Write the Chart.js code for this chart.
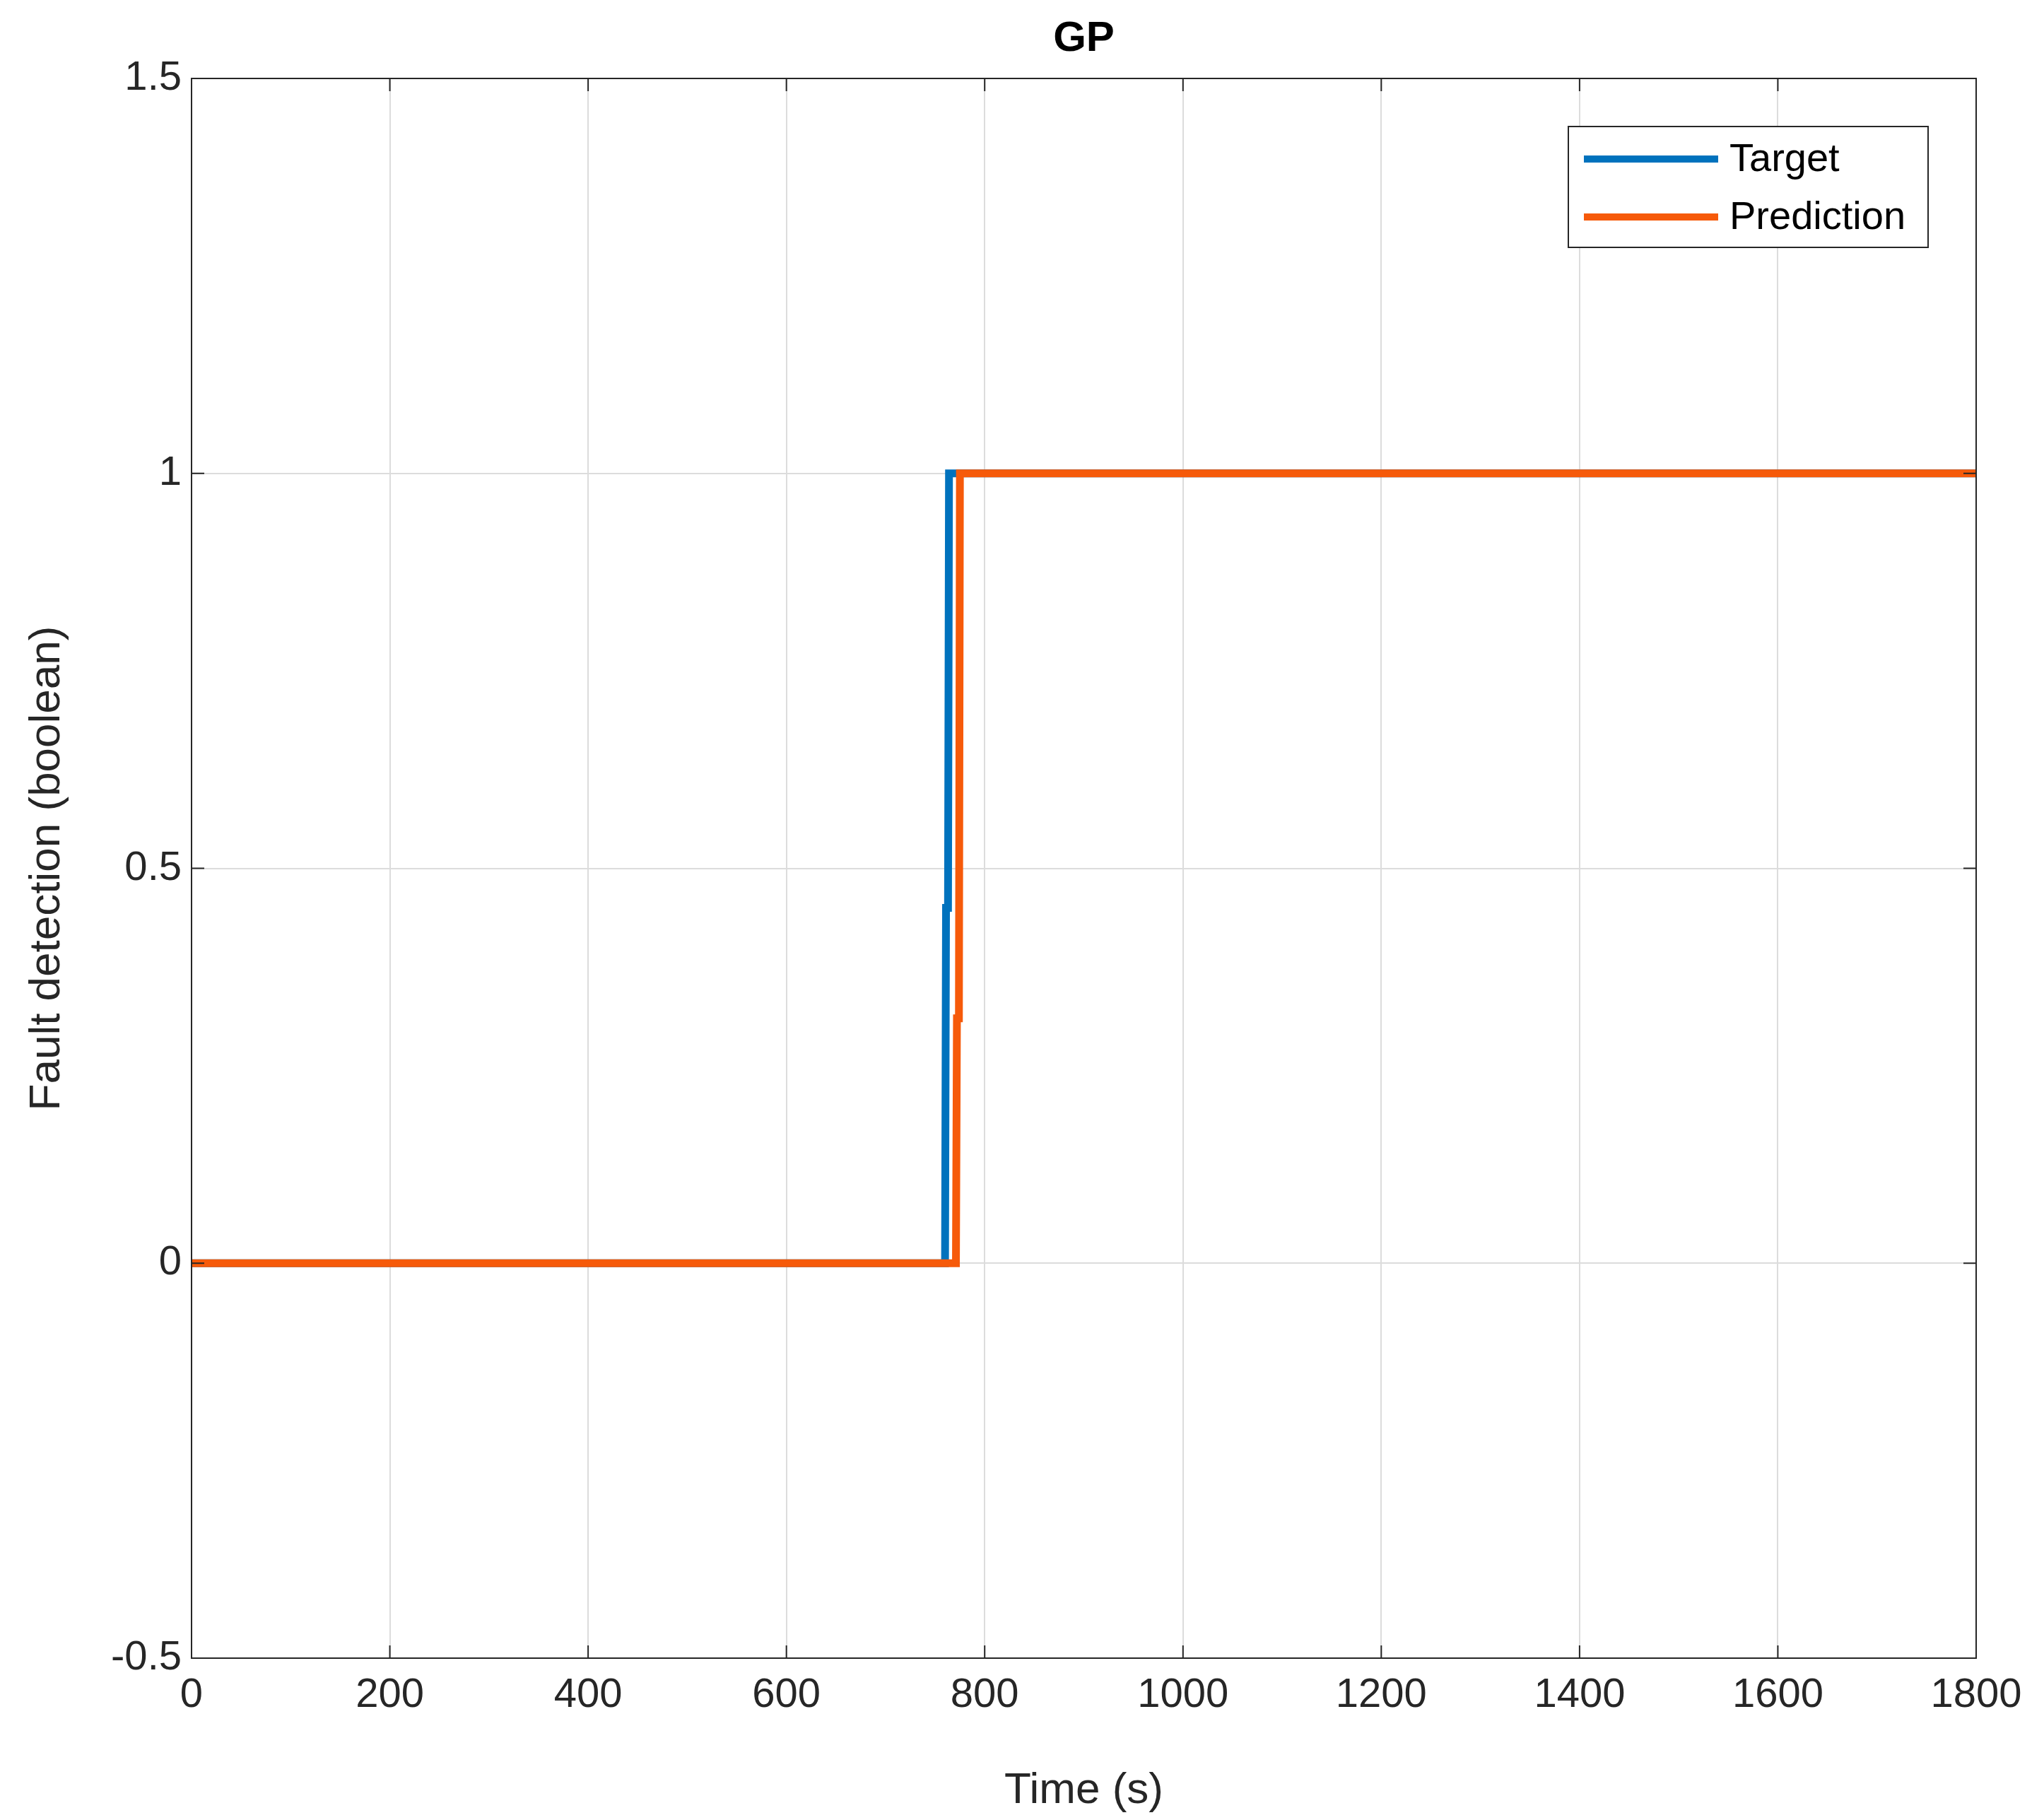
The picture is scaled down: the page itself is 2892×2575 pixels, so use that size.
<!DOCTYPE html>
<html><head><meta charset="utf-8">
<script src="https://cdn.jsdelivr.net/npm/chart.js@4/dist/chart.umd.min.js"></script>
<style>html,body{margin:0;padding:0;background:#fff}#w{width:2892px;height:2575px}</style>
</head><body><div id="w"><canvas id="c"></canvas></div>
<script>
const chartTitle = "GP";
const xTitle = "Time (s)";
const yTitle = "Fault detection (boolean)";
const targetTime = [0, 760, 761, 763, 764, 767, 1800];
const targetValue = [0, 0, 0.45, 0.45, 1, 1, 1];
const predTime = [0, 771, 772, 774, 775, 778, 1800];
const predValue = [0, 0, 0.31, 0.31, 1, 1, 1];
const seriesLabels = ["Target", "Prediction"];
const seriesColors = ["#0072BD", "#F65A0A"];
const xTicks = [0,200,400,600,800,1000,1200,1400,1600,1800];
const yTicks = [-0.5,0,0.5,1,1.5];

const toPts = (xs, ys) => xs.map((x,i)=>({x, y: ys[i]}));
const FONT = "'Liberation Sans', Arial, sans-serif";

const deco = {
  id: 'deco',
  afterDraw(chart) {
    const {ctx, chartArea: a, scales: {x, y}} = chart;
    ctx.save();
    ctx.strokeStyle = '#262626'; ctx.lineWidth = 2;
    const L = 18;
    xTicks.forEach(v => { const p = x.getPixelForValue(v);
      ctx.beginPath(); ctx.moveTo(p, a.bottom); ctx.lineTo(p, a.bottom - L);
      ctx.moveTo(p, a.top); ctx.lineTo(p, a.top + L); ctx.stroke(); });
    yTicks.forEach(v => { const p = y.getPixelForValue(v);
      ctx.beginPath(); ctx.moveTo(a.left, p); ctx.lineTo(a.left + L, p);
      ctx.moveTo(a.right, p); ctx.lineTo(a.right - L, p); ctx.stroke(); });
    ctx.strokeRect(a.left, a.top, a.right - a.left, a.bottom - a.top);
    ctx.fillStyle = '#000'; ctx.font = "bold 60px " + FONT;
    ctx.textAlign = 'center'; ctx.textBaseline = 'middle';
    ctx.fillText(chartTitle, (a.left + a.right)/2, 55);
    const bx = 2219, by = 179, bw = 509, bh = 171;
    ctx.fillStyle = '#fff'; ctx.fillRect(bx, by, bw, bh);
    ctx.strokeStyle = '#262626'; ctx.lineWidth = 2; ctx.strokeRect(bx, by, bw, bh);
    ctx.font = "56px " + FONT; ctx.textAlign = 'left';
    seriesLabels.forEach((lab, i) => {
      const cy = by + 46 + i * 82;
      ctx.strokeStyle = seriesColors[i]; ctx.lineWidth = 10;
      ctx.beginPath(); ctx.moveTo(bx + 22, cy); ctx.lineTo(bx + 212, cy); ctx.stroke();
      ctx.fillStyle = '#000'; ctx.fillText(lab, bx + 228, cy + 2);
    });
    ctx.restore();
  }
};

new Chart(document.getElementById('c'), {
  type: 'line',
  data: { datasets: [
    { label: seriesLabels[0], data: toPts(targetTime, targetValue), borderColor: seriesColors[0], borderWidth: 11, pointRadius: 0, tension: 0, order: 2 },
    { label: seriesLabels[1], data: toPts(predTime, predValue), borderColor: seriesColors[1], borderWidth: 11, pointRadius: 0, tension: 0, order: 1 }
  ]},
  options: {
    responsive: true, maintainAspectRatio: false, animation: false,
    layout: { padding: { top: 111, right: 96, left: 0, bottom: 0 } },
    plugins: { legend: { display: false }, title: { display: false }, tooltip: { enabled: false } },
    scales: {
      x: { type: 'linear', min: 0, max: 1800,
        afterBuildTicks: s => { s.ticks = xTicks.map(v => ({value: v})); },
        afterFit: s => { s.height = 229; },
        grid: { color: '#dcdcdc', lineWidth: 2, drawTicks: false },
        border: { display: false },
        ticks: { color: '#262626', font: { size: 58, family: FONT }, padding: 18, maxRotation: 0, callback: v => String(v) },
        title: { display: true, text: xTitle, color: '#262626', font: { size: 62, family: FONT }, padding: { top: 0 } } },
      y: { min: -0.5, max: 1.5,
        afterBuildTicks: s => { s.ticks = yTicks.map(v => ({value: v})); },
        afterFit: s => { s.width = 271; },
        grid: { color: '#dcdcdc', lineWidth: 2, drawTicks: false },
        border: { display: false },
        ticks: { color: '#262626', font: { size: 58, family: FONT }, padding: 14, callback: v => String(v) },
        title: { display: true, text: yTitle, color: '#262626', font: { size: 62, family: FONT }, padding: { top: 30, bottom: 10 } } }
    }
  },
  plugins: [deco]
});
</script></body></html>
